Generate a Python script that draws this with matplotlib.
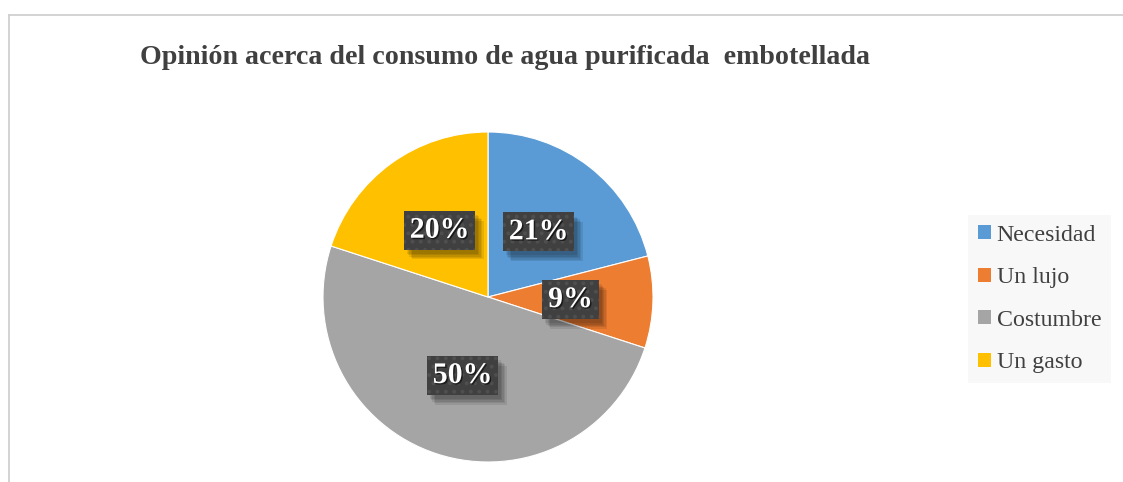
import matplotlib
matplotlib.use("Agg")
import matplotlib.pyplot as plt
import matplotlib.patheffects as pe
from matplotlib.patches import Patch
from matplotlib.lines import Line2D

categories = ["Necesidad", "Un lujo", "Costumbre", "Un gasto"]
values = [21, 9, 50, 20]
colors = ["#5B9BD5", "#ED7D31", "#A5A5A5", "#FFC000"]
title = "Opinión acerca del consumo de agua purificada  embotellada"

plt.rcParams['font.family'] = ['Liberation Serif', 'DejaVu Serif']
plt.rcParams['hatch.linewidth'] = 1.6

W, H = 1123, 482
fig = plt.figure(figsize=(W / 100, H / 100), dpi=100)
fig.patch.set_facecolor('white')

# chart border (top and left visible)
fig.add_artist(Line2D([8.5 / W, 8.5 / W], [0, 1 - 15 / H], transform=fig.transFigure,
                      color='#d0d0d0', lw=1.3))
fig.add_artist(Line2D([8.5 / W, 1], [1 - 15 / H, 1 - 15 / H], transform=fig.transFigure,
                      color='#d0d0d0', lw=1.3))

cx, cy, r = 488, 297, 165
ax = fig.add_axes([(cx - r) / W, (H - cy - r) / H, 2 * r / W, 2 * r / H])
wedges, texts, autotexts = ax.pie(values, colors=colors, startangle=90, counterclock=False,
                                  autopct='%1.0f%%', pctdistance=0.5,
                                  wedgeprops=dict(edgecolor='white', linewidth=0.8))
ax.set_xlim(-1, 1)
ax.set_ylim(-1, 1)
ax.set_aspect('equal')

shadow = [pe.SimplePatchShadow(offset=(o, -o - 1), shadow_rgbFace='black', alpha=0.09)
          for o in (2, 3, 4, 5, 6)] + [pe.Normal()]
for t in autotexts:
    x, y = t.get_position()
    t.set_fontsize(21.5)
    t.set_fontweight('bold')
    t.set_color('#404040')
    t.set_bbox(dict(boxstyle='square,pad=0.2', fc='#404040', ec='none', lw=0))
    t.get_bbox_patch().set_path_effects(shadow)
    t2 = ax.text(x, y, t.get_text(), ha='center', va='center', fontsize=21.5,
                 fontweight='bold', color='white',
                 bbox=dict(boxstyle='square,pad=0.2', fc='none', ec='#4f4f4f', lw=0, hatch='..'))
    t2.set_path_effects([pe.withSimplePatchShadow(offset=(1, -1), shadow_rgbFace='black', alpha=0.6)])

fig.text(140 / W, 1 - 57 / H, title, fontsize=20.2, fontweight='bold', color='#404040',
         ha='left', va='center')

handles = [Patch(facecolor=c, edgecolor='none') for c in colors]
leg = fig.legend(handles, categories, loc='center left', bbox_to_anchor=(968 / W, 1 - 299 / H),
                 frameon=True, fancybox=False, facecolor='#f8f8f8', edgecolor='none', framealpha=1,
                 fontsize=17.2, handlelength=0.55, handleheight=0.55, handletextpad=0.25,
                 labelspacing=0.9, borderpad=0.4, borderaxespad=0)
for txt in leg.get_texts():
    txt.set_color('#404040')

fig.savefig('out.png', dpi=100, facecolor='white')
